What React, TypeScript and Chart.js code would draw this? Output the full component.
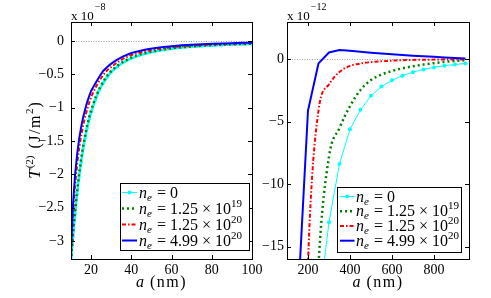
import React, { useEffect, useRef } from "react";
import { Chart, registerables } from "chart.js";

Chart.register(...registerables);

const FONT = '"Liberation Serif", "Times New Roman", serif';

// ---------------- data ----------------
// left panel: a (nm), T^(2) in units of 1e-8 J/m^2
const leftA = [10, 11, 12, 13, 14, 15, 16, 17, 18, 19, 20, 22, 24, 26, 28, 30, 33, 36, 40, 44, 48, 52, 56, 60, 65, 70, 75, 80, 85, 90, 95, 100];
const leftNe0 = [-3.33, -2.94, -2.6, -2.3, -2.04, -1.82, -1.62, -1.46, -1.31, -1.18, -1.07, -0.89, -0.74, -0.63, -0.54, -0.465, -0.385, -0.32, -0.26, -0.215, -0.18, -0.154, -0.133, -0.116, -0.099, -0.086, -0.075, -0.066, -0.059, -0.053, -0.048, -0.044];
const leftNe1 = [-3.3, -2.9, -2.56, -2.26, -2.0, -1.78, -1.58, -1.42, -1.27, -1.15, -1.04, -0.86, -0.72, -0.61, -0.52, -0.45, -0.37, -0.31, -0.25, -0.205, -0.172, -0.147, -0.127, -0.11, -0.094, -0.081, -0.071, -0.063, -0.056, -0.05, -0.045, -0.041];
const leftNe2 = [-3.22, -2.6, -2.17, -1.86, -1.62, -1.43, -1.27, -1.14, -1.03, -0.93, -0.84, -0.71, -0.6, -0.51, -0.44, -0.39, -0.32, -0.265, -0.21, -0.175, -0.147, -0.125, -0.108, -0.094, -0.08, -0.069, -0.06, -0.053, -0.047, -0.042, -0.038, -0.034];
const leftNe3 = [-3.15, -2.45, -2.02, -1.71, -1.48, -1.3, -1.15, -1.03, -0.92, -0.83, -0.75, -0.64, -0.54, -0.45, -0.39, -0.34, -0.28, -0.23, -0.18, -0.15, -0.125, -0.105, -0.09, -0.077, -0.065, -0.055, -0.047, -0.041, -0.036, -0.032, -0.028, -0.025];

// right panel: a (nm), T^(2) in units of 1e-12 J/m^2
const rightA = [150, 200, 250, 300, 350, 400, 450, 500, 550, 600, 650, 700, 750, 800, 850, 900, 950];
const rightNe0 = [-90, -40, -20, -13.06, -8.38, -5.6, -4.04, -2.92, -2.18, -1.67, -1.3, -1.02, -0.8, -0.64, -0.5, -0.41, -0.32];
const rightNe1 = [-70, -38, -16.5, -7.8, -5.5, -3.75, -2.45, -1.65, -1.22, -0.93, -0.71, -0.55, -0.41, -0.3, -0.2, -0.12, -0.06];
const rightNe2 = [-50, -16.3, -4.1, -2.0, -1.0, -0.52, -0.33, -0.22, -0.15, -0.1, -0.065, -0.04, -0.025, -0.015, -0.008, -0.004, -0.002];
const rightNe3 = [-20, -4.1, -0.32, 0.56, 0.75, 0.69, 0.61, 0.54, 0.47, 0.41, 0.35, 0.3, 0.25, 0.21, 0.16, 0.12, 0.08];

const leftXTicks = [20, 40, 60, 80, 100];
const leftYTicks = [0, -0.5, -1, -1.5, -2, -2.5, -3];
const rightXTicks = [200, 400, 600, 800];
const rightYTicks = [0, -5, -10, -15];

const legendLabels = ["0", "1.25 × 10^19", "1.25 × 10^20", "4.99 × 10^20"];
const leftExponent = "−8";
const rightExponent = "−12";

// ---------------- styles ----------------
const STYLES = [
  { color: "#00ffff", width: 1, dash: [] as number[], point: 2 },
  { color: "#008000", width: 2.5, dash: [2, 3], point: 0 },
  { color: "#ff0000", width: 2, dash: [4, 2, 1.5, 2], point: 0 },
  { color: "#0000ff", width: 2, dash: [] as number[], point: 0 },
];

type Part = { t: string; size: number; italic?: boolean; dy?: number; gap?: number; ls?: number };

function drawRich(ctx: CanvasRenderingContext2D, parts: Part[], x: number, y: number, align: "left" | "center") {
  const c: any = ctx;
  const widths = parts.map((p) => {
    ctx.font = `${p.italic ? "italic " : ""}${p.size}px ${FONT}`;
    c.letterSpacing = `${p.ls || 0}px`;
    return ctx.measureText(p.t).width + (p.gap || 0);
  });
  const total = widths.reduce((a, b) => a + b, 0);
  let cx = align === "center" ? x - total / 2 : x;
  ctx.textAlign = "left";
  ctx.textBaseline = "alphabetic";
  parts.forEach((p, i) => {
    ctx.font = `${p.italic ? "italic " : ""}${p.size}px ${FONT}`;
    c.letterSpacing = `${p.ls || 0}px`;
    ctx.fillText(p.t, cx, y + (p.dy || 0));
    cx += widths[i];
  });
  c.letterSpacing = "0px";
}

function legendParts(label: string): Part[] {
  const [mant, exp] = label.split("^");
  const parts: Part[] = [
    { t: "n", size: 16, italic: true },
    { t: "e", size: 11, italic: true, dy: 3, gap: 1 },
    { t: " = " + mant, size: 16 },
  ];
  if (exp) parts.push({ t: exp, size: 11, dy: -7 });
  return parts;
}

const panelPlugin = {
  id: "panel",
  beforeDatasetsDraw(chart: any) {
    const ctx: CanvasRenderingContext2D = chart.ctx;
    const { left, right } = chart.chartArea;
    const y0 = chart.scales.y.getPixelForValue(0);
    ctx.save();
    ctx.strokeStyle = "#a0a0a0";
    ctx.lineWidth = 1;
    ctx.setLineDash([1, 1.5]);
    ctx.beginPath();
    ctx.moveTo(left, Math.round(y0) + 0.5);
    ctx.lineTo(right, Math.round(y0) + 0.5);
    ctx.stroke();
    ctx.restore();
  },
  afterDraw(chart: any, _args: any, opts: any) {
    const ctx: CanvasRenderingContext2D = chart.ctx;
    const { left, right, top, bottom } = chart.chartArea;
    const xs = chart.scales.x;
    const ys = chart.scales.y;
    ctx.save();
    ctx.strokeStyle = "#000";
    ctx.fillStyle = "#000";
    ctx.lineWidth = 1;
    ctx.setLineDash([]);
    // box
    ctx.strokeRect(Math.round(left) + 0.5, Math.round(top) + 0.5, Math.round(right - left), Math.round(bottom - top));
    // inward ticks
    const tl = 4;
    ctx.beginPath();
    opts.xTicks.forEach((v: number) => {
      const px = Math.round(xs.getPixelForValue(v)) + 0.5;
      ctx.moveTo(px, bottom);
      ctx.lineTo(px, bottom - tl);
      ctx.moveTo(px, top);
      ctx.lineTo(px, top + tl);
    });
    opts.yTicks.forEach((v: number) => {
      const py = Math.round(ys.getPixelForValue(v)) + 0.5;
      ctx.moveTo(left, py);
      ctx.lineTo(left + tl, py);
      ctx.moveTo(right, py);
      ctx.lineTo(right - tl, py);
    });
    ctx.stroke();

    // exponent title
    drawRich(ctx, [
      { t: "x 10", size: 13, gap: 1 },
      { t: opts.exponent, size: 10, dy: -10 },
    ], left, top - 2, "left");

    // x axis title
    drawRich(ctx, [
      { t: "a", size: 16, italic: true, gap: 6 },
      { t: "(nm)", size: 16, ls: 1.5 },
    ], (left + right) / 2, 287, "center");

    // y axis title
    if (opts.yTitle) {
      ctx.save();
      ctx.translate(opts.yTitle.x, (top + bottom) / 2);
      ctx.rotate(-Math.PI / 2);
      drawRich(ctx, [
        { t: "T", size: 17, italic: true, gap: 1 },
        { t: "(2)", size: 11, dy: -7, gap: 7 },
        { t: "(J/m", size: 16, ls: 1.5 },
        { t: "2", size: 11, dy: -7, gap: 1 },
        { t: ")", size: 16 },
      ], 0, 6, "center");
      ctx.restore();
    }

    // legend
    const L = opts.legend;
    ctx.fillStyle = "#fff";
    ctx.fillRect(L.x0, L.y0, L.x1 - L.x0, L.y1 - L.y0);
    ctx.strokeStyle = "#000";
    ctx.lineWidth = 1;
    ctx.strokeRect(L.x0, L.y0, L.x1 - L.x0, L.y1 - L.y0);
    legendLabels.forEach((lab, i) => {
      const st = STYLES[i];
      const ry = L.rows[i];
      ctx.save();
      ctx.strokeStyle = st.color;
      ctx.lineWidth = st.width;
      ctx.setLineDash(st.dash);
      ctx.beginPath();
      ctx.moveTo(L.s0, ry);
      ctx.lineTo(L.s1, ry);
      ctx.stroke();
      if (st.point) {
        ctx.fillStyle = st.color;
        ctx.beginPath();
        ctx.arc((L.s0 + L.s1) / 2, ry, st.point, 0, Math.PI * 2);
        ctx.fill();
      }
      ctx.restore();
      ctx.fillStyle = "#000";
      drawRich(ctx, legendParts(lab), L.tx, ry + 5, "left");
    });
    ctx.restore();
  },
};

const fmt = (v: any) => {
  const n = Number(v);
  if (n === 0) return "0";
  return (n < 0 ? "−" : "") + String(Math.abs(n));
};

function makeConfig(p: any): any {
  const series = [p.s0, p.s1, p.s2, p.s3];
  return {
    type: "line",
    data: {
      datasets: series.map((ys: number[], i: number) => {
        const st = STYLES[i];
        const w = i === 0 && p.cyanWidth ? p.cyanWidth : st.width;
        const r = i === 0 && p.cyanPoint ? p.cyanPoint : st.point;
        const smooth = p.smooth && (i === 1 || i === 2);
        return {
          label: legendLabels[i],
          data: p.xs.map((x: number, j: number) => ({ x, y: ys[j] })),
          borderColor: st.color,
          backgroundColor: st.color,
          borderWidth: w,
          borderDash: st.dash,
          borderCapStyle: "butt",
          pointRadius: r,
          pointHoverRadius: r,
          pointStyle: "circle",
          pointBorderWidth: 0,
          pointBackgroundColor: st.color,
          tension: 0,
          cubicInterpolationMode: smooth ? "monotone" : "default",
          fill: false,
          order: 3 - i,
        };
      }),
    },
    options: {
      animation: false,
      responsive: false,
      devicePixelRatio: 1,
      events: [],
      layout: { padding: { left: 0, right: p.padRight, top: 22, bottom: 0 } },
      plugins: {
        legend: { display: false },
        tooltip: { enabled: false },
        panel: p.panel,
      },
      scales: {
        x: {
          type: "linear",
          min: p.xMin,
          max: p.xMax,
          bounds: "data",
          grid: { display: false, drawTicks: false, tickLength: 0 },
          border: { display: false },
          ticks: {
            font: { family: FONT, size: 14 },
            color: "#000",
            padding: 3,
            maxRotation: 0,
            autoSkip: false,
            callback: fmt,
          },
          afterBuildTicks: (s: any) => {
            s.ticks = p.xTicks.map((v: number) => ({ value: v }));
          },
          afterFit: (s: any) => {
            s.height = 39;
          },
        },
        y: {
          type: "linear",
          min: p.yMin,
          max: p.yMax,
          bounds: "data",
          grid: { display: false, drawTicks: false, tickLength: 0 },
          border: { display: false },
          ticks: {
            font: { family: FONT, size: 14 },
            color: "#000",
            padding: p.yPad,
            autoSkip: false,
            callback: fmt,
          },
          afterBuildTicks: (s: any) => {
            s.ticks = p.yTicks.map((v: number) => ({ value: v }));
          },
          afterFit: (s: any) => {
            s.width = p.yWidth;
          },
        },
      },
    },
    plugins: [panelPlugin],
  };
}

const RIGHT_OFF = 258;

export default function App() {
  const leftRef = useRef<HTMLCanvasElement | null>(null);
  const rightRef = useRef<HTMLCanvasElement | null>(null);

  useEffect(() => {
    document.body.style.margin = "0";
    const c1 = new Chart(leftRef.current as HTMLCanvasElement, makeConfig({
      xs: leftA, s0: leftNe0, s1: leftNe1, s2: leftNe2, s3: leftNe3,
      xMin: 10, xMax: 100, yMin: -3.27, yMax: 0.285,
      xTicks: leftXTicks, yTicks: leftYTicks,
      padRight: 16, yWidth: 71, yPad: 7,
      cyanWidth: 2.5, cyanPoint: 1.6,
      panel: {
        xTicks: leftXTicks, yTicks: leftYTicks, exponent: leftExponent,
        yTitle: { x: 34 },
        legend: { x0: 120.5, y0: 183.5, x1: 249.5, y1: 250.5, rows: [192.5, 208.5, 224.5, 240.5], s0: 122, s1: 137, tx: 139 },
      },
    }));
    const c2 = new Chart(rightRef.current as HTMLCanvasElement, makeConfig({
      xs: rightA, s0: rightNe0, s1: rightNe1, s2: rightNe2, s3: rightNe3,
      xMin: 100, xMax: 967, yMin: -16, yMax: 3,
      xTicks: rightXTicks, yTicks: rightYTicks,
      padRight: 22, yWidth: 287 - RIGHT_OFF, yPad: 3,
      smooth: true,
      panel: {
        xTicks: rightXTicks, yTicks: rightYTicks, exponent: rightExponent,
        yTitle: null,
        legend: {
          x0: 337.5 - RIGHT_OFF, y0: 187.5, x1: 461.5 - RIGHT_OFF, y1: 252.5,
          rows: [196.5, 211.2, 226, 240.7], s0: 340 - RIGHT_OFF, s1: 354.5 - RIGHT_OFF, tx: 356 - RIGHT_OFF,
        },
      },
    }));
    return () => {
      c1.destroy();
      c2.destroy();
    };
  }, []);

  return (
    <div style={{ position: "relative", width: 491, height: 298, background: "#fff" }}>
      <canvas ref={leftRef} width={268} height={298} style={{ position: "absolute", left: 0, top: 0 }} />
      <canvas ref={rightRef} width={233} height={298} style={{ position: "absolute", left: RIGHT_OFF, top: 0 }} />
    </div>
  );
}
